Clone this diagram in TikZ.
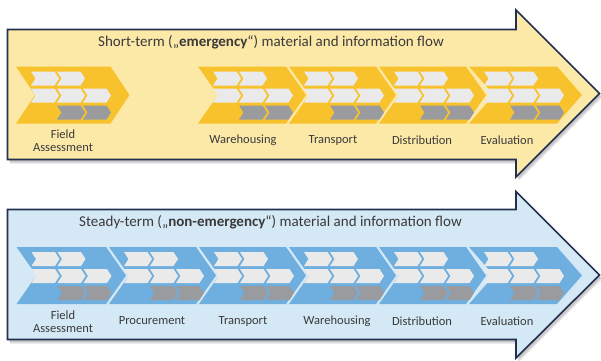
\documentclass[tikz,border=0pt]{standalone}
\usepackage{fontspec}
\setmainfont{Carlito}
\definecolor{ybg}{HTML}{FCE9A8}
\definecolor{ychev}{HTML}{F8C22D}
\definecolor{bbg}{HTML}{D5E8F6}
\definecolor{bchevc}{HTML}{6EAFDF}
\definecolor{lgrey}{HTML}{EAEAEA}
\definecolor{dgrey}{HTML}{9A9B9E}
\definecolor{edge}{HTML}{22304F}
\definecolor{txt}{HTML}{3A3A3A}
\newcommand{\toparrowpath}{(7.5,29.5) -- (516,29.5) -- (516,10) -- (599.5,93.5) -- (516,177) -- (516,159.5) -- (7.5,159.5) -- cycle}
\newcommand{\botarrowpath}{(7.5,209.5) -- (516,209.5) -- (516,191.5) -- (599.5,275) -- (516,358) -- (516,339.5) -- (7.5,339.5) -- cycle}
% small chevron: #1 x, #2 y top, #3 fill
\newcommand{\schev}[3]{\fill[#3] (#1,#2) -- ++(23.5,0) -- ++(4.5,7) -- ++(-4.5,7) -- ++(-23.5,0) -- ++(4.5,-7) -- cycle;}
% big chevron: #1 left x, #2 top y, #3 body width, #4 tip depth, #5 fill
\newcommand{\bchev}[5]{%
  \fill[#5] (#1,#2) -- ++(#3,0) -- ++(#4,28.5) -- ++(-#4,28.5) -- ++(-#3,0) -- ++(#4,-28.5) -- cycle;
  \schev{#1+15}{#2+5}{lgrey}\schev{#1+41}{#2+5}{lgrey}
  \schev{#1+15}{#2+22}{lgrey}\schev{#1+41}{#2+22}{lgrey}\schev{#1+67}{#2+22}{lgrey}
  \schev{#1+41}{#2+39}{dgrey}\schev{#1+67}{#2+39}{dgrey}}
\tikzset{
  lbl/.style={text=txt,font=\fontsize{12.5}{13.5}\selectfont,align=center,inner sep=0pt},
  ttl/.style={text=txt,font=\fontsize{15}{17}\selectfont,inner sep=0pt},
  arrowedge/.style={draw=edge,line width=1.6pt,line join=miter},
  shade1/.style={fill=black,opacity=.12}
}
\begin{document}
\begin{tikzpicture}[x=1pt,y=-1pt]
\useasboundingbox (0,0) rectangle (601,360);
% shadows
\begin{scope}[shift={(1.5,2.5)}]
  \fill[shade1] \toparrowpath; \fill[shade1] \botarrowpath;
\end{scope}
\begin{scope}[shift={(2.5,4)}]
  \fill[shade1] \toparrowpath; \fill[shade1] \botarrowpath;
\end{scope}
% arrows
\path[arrowedge,fill=ybg] \toparrowpath;
\path[arrowedge,fill=bbg] \botarrowpath;
% top chevrons
\bchev{16}{66.5}{94.5}{19}{ychev}
\bchev{198}{66.5}{88}{20}{ychev}
\bchev{289}{66.5}{87}{20}{ychev}
\bchev{379}{66.5}{87}{20}{ychev}
\bchev{469}{66.5}{88}{25}{ychev}
% bottom chevrons
\bchev{16.5}{247}{89.5}{20}{bchevc}
\bchev{109}{247}{87}{20}{bchevc}
\bchev{199}{247}{87}{20}{bchevc}
\bchev{289}{247}{87}{20}{bchevc}
\bchev{379}{247}{87}{20}{bchevc}
\bchev{469}{247}{88}{25}{bchevc}
% titles
\node[ttl] (t1) at (271,42) {Short-term („\textbf{emergency}“) material and information flow};
\node[ttl] (t2) at (270.5,222) {Steady-term („\textbf{non-emergency}“) material and information flow};
% top labels
\node[lbl] (a1) at (63,140.5) {Field\\Assessment};
\node[lbl] (a2) at (243,140) {Warehousing};
\node[lbl] (a3) at (333,140) {Transport};
\node[lbl] (a4) at (422,140) {Distribution};
\node[lbl] (a5) at (507,140) {Evaluation};
% bottom labels
\node[lbl] (b1) at (63,321.5) {Field\\Assessment};
\node[lbl] (b2) at (152,321) {Procurement};
\node[lbl] (b3) at (243,321) {Transport};
\node[lbl] (b4) at (337,321) {Warehousing};
\node[lbl] (b5) at (422,321) {Distribution};
\node[lbl] (b6) at (507,321) {Evaluation};
\end{tikzpicture}
\end{document}
